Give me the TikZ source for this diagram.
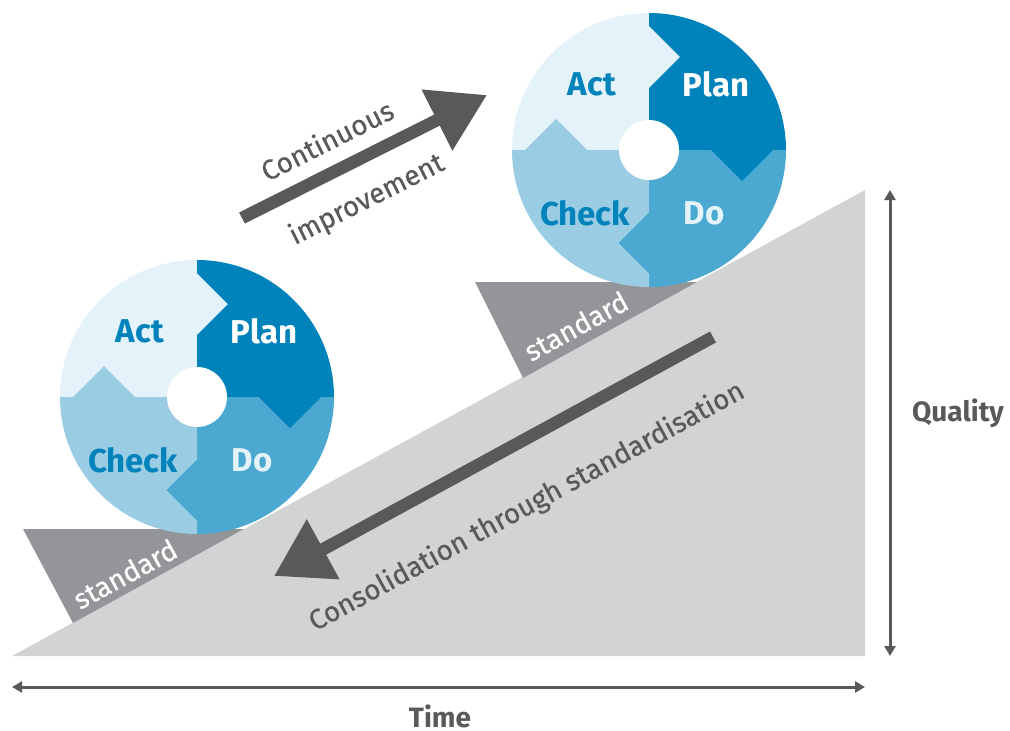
\documentclass[tikz,border=0pt]{standalone}
\usepackage{fontspec}
\setmainfont{Fira Sans}
\newfontfamily\medfont{Fira Sans}[FakeBold=0.5]
\usetikzlibrary{arrows.meta}
\definecolor{rampc}{HTML}{D1D3D4}
\definecolor{wedgec}{HTML}{939598}
\definecolor{dgray}{HTML}{58595B}
\definecolor{actc}{HTML}{E4F2F9}
\definecolor{planc}{HTML}{0082BB}
\definecolor{doc}{HTML}{4BA8D1}
\definecolor{checkc}{HTML}{9ACDE4}
\tikzset{
  wheeltxt/.style={font=\fontsize{33}{33}\selectfont\bfseries, inner sep=0pt},
  stdtxt/.style={font=\fontsize{28}{28}\selectfont\medfont, text=white, rotate=28.6, inner sep=0pt},
  graytxt/.style={font=\fontsize{28}{28}\selectfont\medfont, text=dgray, inner sep=0pt},
  axistxt/.style={font=\fontsize{28}{28}\selectfont\bfseries, text=dgray, inner sep=0pt},
  bigarrow/.style={draw=dgray, line width=12.5pt, line cap=butt, -{Triangle[length=56pt 0 0,width=65pt 0 0]}},
  axisarrow/.style={draw=dgray, line width=3pt, {Triangle[length=10pt 0 0,width=11pt 0 0]}-{Triangle[length=10pt 0 0,width=11pt 0 0]}}
}
\newcommand{\pdcawheel}[3]{%
\begin{scope}[shift={(#2,#3)}]
  \begin{scope}
    \clip (0,0) circle[radius=137];
    \fill[actc] (0,0) -- (-140,0) -- (-140,-140) -- (0,-140) -- (0,-124) -- (31,-93) -- (0,-62) -- cycle;
    \fill[planc] (0,0) -- (0,-62) -- (31,-93) -- (0,-124) -- (0,-140) -- (140,-140) -- (140,0) -- cycle;
    \fill[doc] (0,0) -- (140,0) -- (140,140) -- (0,140) -- (0,124) -- (-31,93) -- (0,62) -- cycle;
    \fill[checkc] (0,0) -- (0,62) -- (-31,93) -- (0,124) -- (0,140) -- (-140,140) -- (-140,0) -- cycle;
    \fill[planc] (62,0) -- (93,31) -- (124,0) -- cycle;
    \fill[checkc] (-124,0) -- (-93,-31) -- (-62,0) -- cycle;
  \end{scope}
  \fill[white] (0,0) circle[radius=30];
  \node[wheeltxt, text=planc] (#1act) at (-57,-66) {Act};
  \node[wheeltxt, text=white] (#1plan) at (67,-66) {Plan};
  \node[wheeltxt, text=planc] (#1check) at (-64,63) {Check};
  \node[wheeltxt, text=actc] (#1do) at (55,63) {Do};
\end{scope}}
\begin{document}
\begin{tikzpicture}[x=1pt, y=-1pt]
  \useasboundingbox (0,0) rectangle (1010,731);
  % ramp
  \coordinate (r0) at (12,656);
  \coordinate (r1) at (865,656);
  \coordinate (r2) at (865,190);
  \fill[rampc] (r0) -- (r1) -- (r2) -- cycle;
  % standard wedges
  \fill[wedgec] (23,529) -- (244,529) -- (73,623) -- cycle;
  \fill[wedgec] (475,282) -- (697,282) -- (523,378) -- cycle;
  \node[stdtxt] (std1) at (125,574) {standard};
  \node[stdtxt] (std2) at (576,326) {standard};
  % wheels
  \pdcawheel{a}{197}{397}
  \pdcawheel{b}{649}{150}
  % continuous improvement arrow
  \coordinate (ci0) at (242,218);
  \coordinate (ci1) at (487,95);
  \draw[bigarrow] (ci0) -- (ci1);
  \node[graytxt, rotate=26.7] (cont) at (327,140) {Continuous};
  \node[graytxt, rotate=26.7] (impr) at (367,200) {improvement};
  % consolidation arrow
  \coordinate (cs0) at (713,337);
  \coordinate (cs1) at (274,576);
  \draw[bigarrow] (cs0) -- (cs1);
  \node[graytxt, rotate=28.6] (cons) at (527,507) {Consolidation through standardisation};
  % axes
  \coordinate (t0) at (12,687);
  \coordinate (t1) at (865,687);
  \draw[axisarrow] (t0) -- (t1);
  \node[axistxt] (time) at (440,716) {Time};
  \coordinate (q0) at (890,656);
  \coordinate (q1) at (890,190);
  \draw[axisarrow] (q0) -- (q1);
  \node[axistxt] (qual) at (958,413) {Quality};
\end{tikzpicture}
\end{document}
